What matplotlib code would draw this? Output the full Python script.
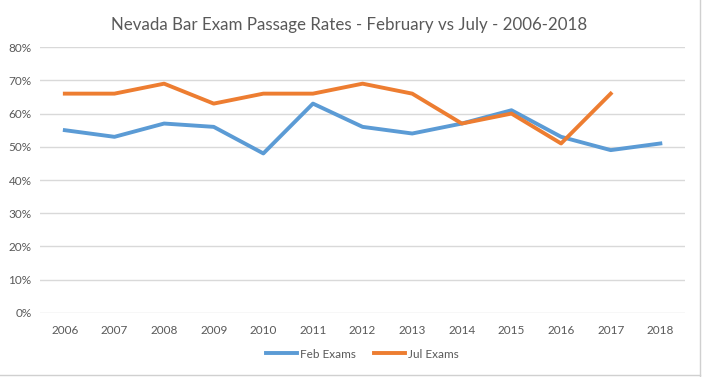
import matplotlib.pyplot as plt
from matplotlib.lines import Line2D
from matplotlib.ticker import PercentFormatter

years = ['2006', '2007', '2008', '2009', '2010', '2011', '2012',
         '2013', '2014', '2015', '2016', '2017', '2018']
feb = [55, 53, 57, 56, 48, 63, 56, 54, 57, 61, 53, 49, 51]
jul = [66, 66, 69, 63, 66, 66, 69, 66, 57, 60, 51, 66]

blue = '#5B9BD5'
orange = '#ED7D31'
grey_text = '#595959'

plt.rcParams['font.family'] = ['Lato', 'DejaVu Sans']

fig = plt.figure(figsize=(7.02, 3.77), dpi=100)
ax = fig.add_axes([0.057, 0.170, 0.919, 0.705])

x = list(range(len(years)))
ax.plot(x, feb, color=blue, lw=2.8, label='Feb Exams', solid_joinstyle='round')
ax.plot(x[:len(jul)], jul, color=orange, lw=2.8, label='Jul Exams', solid_joinstyle='round')

ax.set_xlim(-0.5, len(years) - 0.5)
ax.set_ylim(0, 80)
ax.set_yticks(range(0, 81, 10))
ax.yaxis.set_major_formatter(PercentFormatter(decimals=0))
ax.set_xticks(x)
ax.set_xticklabels(years)
ax.grid(axis='y', color='#D9D9D9', lw=1)
ax.set_axisbelow(True)
for s in ax.spines.values():
    s.set_visible(False)
ax.tick_params(length=0, labelsize=8.5, colors=grey_text)
ax.tick_params(axis='x', pad=9)
ax.tick_params(axis='y', pad=6)

fig.text(0.497, 0.935, 'Nevada Bar Exam Passage Rates - February vs July - 2006-2018',
         ha='center', va='center', fontsize=12.2, color=grey_text)

ax.legend(loc='center', bbox_to_anchor=(0.5, -0.155), ncol=2, frameon=False,
          fontsize=8.5, labelcolor=grey_text, handlelength=2.6, columnspacing=1.5,
          handletextpad=0.3)

# worksheet cell borders around the chart
fig.add_artist(Line2D([0.997, 0.997], [0.0, 1.0], color='#D0D0D0', lw=1))
fig.add_artist(Line2D([0.0, 0.997], [0.006, 0.006], color='#D0D0D0', lw=1))

fig.savefig('out.png', dpi=100)
